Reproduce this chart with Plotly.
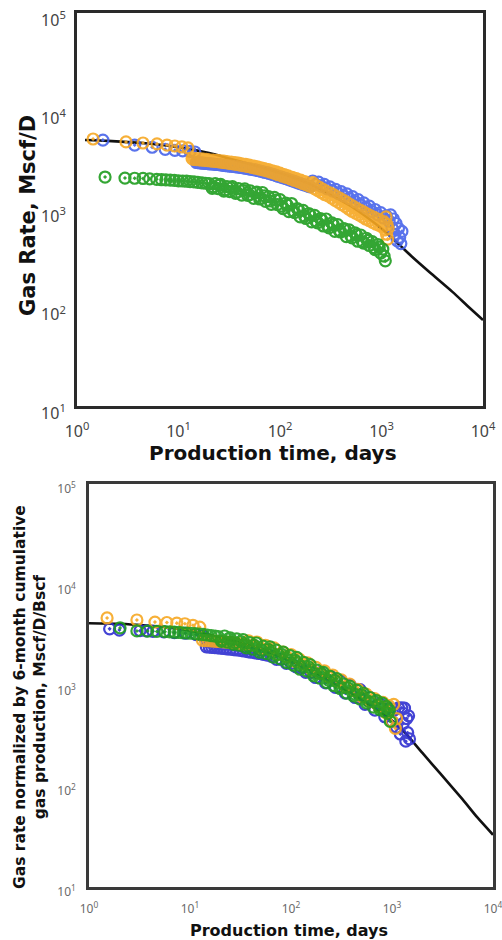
import plotly.graph_objects as go

# ---------------- Top panel: Gas rate ----------------
top_fit_t = [1.2, 2, 5, 10, 15, 20, 30, 50, 100, 200, 500, 1000, 1500, 2000, 3000, 5000, 7000, 10000]
top_fit_q = [5100, 5000, 4700, 4300, 4000, 3750, 3350, 2900, 2350, 1800, 1080, 640, 437, 330, 228, 145, 105, 75]

top_blue_t = [1.8, 3.7, 5.5, 7.4, 9.2, 11, 13, 14.5,
              15, 15.5, 16, 16.5, 17, 17.6, 18.2, 18.8, 19.5, 20.2, 21, 22, 23, 24, 25, 26, 27, 28, 29, 30.5,
              32, 33.5, 35, 36.5, 38, 39.5, 41, 42.5, 44, 46, 48, 50, 52, 54.5, 57, 59.5, 62, 65, 68, 71,
              74, 77.5, 81, 84.5, 88, 92, 96, 100.5, 105, 110, 115, 120.5, 126, 132, 138, 145, 152, 159.5, 167, 175,
              183, 190.5, 198,
              210, 225, 240, 256, 273, 291, 310, 331, 353, 376, 401, 428, 456, 486, 518, 552, 589, 628, 669, 713,
              760, 810, 864, 921, 982, 1047, 1116, 1190, 1230, 1270, 1310, 1350, 1390, 1430, 1470, 1510, 1550, 1590]
top_blue_q = [5090, 4530, 4300, 4100, 4000, 3950, 3900, 3850,
              3010, 3000, 2990, 2980, 2970, 2960, 2950, 2940, 2930, 2920, 2910, 2895, 2880, 2870, 2860, 2845, 2830, 2815, 2800, 2785,
              2770, 2755, 2740, 2725, 2710, 2695, 2680, 2665, 2650, 2630, 2610, 2590, 2570, 2550, 2530, 2505, 2480, 2450, 2420, 2395,
              2370, 2340, 2310, 2280, 2250, 2215, 2180, 2150, 2120, 2090, 2060, 2025, 1990, 1960, 1930, 1895, 1860, 1830, 1800, 1775,
              1750, 1725, 1700,
              1950, 1800, 1900, 1720, 1800, 1620, 1700, 1540, 1600, 1450, 1520, 1370, 1440, 1290, 1350, 1200, 1260, 1110, 1170, 1030,
              1080, 950, 1000, 880, 930, 820, 860, 760, 880, 650, 800, 560, 720, 480, 640, 520, 450, 600]

top_orange_t = [1.44, 3.04, 4.47, 6.14, 7.7, 9.2, 10.8, 12.4,
                13.6, 14.0, 14.5, 15.0, 15.5, 16.0, 16.5, 17.0, 17.6, 18.2, 18.8, 19.4, 20, 21, 22, 23, 24, 25, 26, 27,
                28, 29, 30, 31.5, 33, 34.5, 36, 37.5, 39, 40.5, 42, 44, 46, 48, 50, 52.5, 55, 57.5, 60, 62.5,
                65, 67.5, 70, 73.5, 77, 80.5, 84, 88, 92, 96, 100, 105, 110, 115, 120, 126, 132, 138, 145, 152,
                160, 167, 175, 182, 190, 197, 205,
                210, 220, 228, 236, 245, 255, 265, 275, 286, 298, 310, 322, 335, 348, 362, 376, 391, 406, 422, 439,
                456, 474, 493, 512, 532, 553, 575, 598, 621, 646, 671, 698, 725, 754, 783, 814, 846, 879, 914, 950,
                987, 1026, 1066, 1090, 1108, 1120, 1135, 1150, 1160]
top_orange_q = [5220, 4870, 4750, 4650, 4530, 4430, 4330, 4230,
                3300, 3240, 3300, 3220, 3280, 3200, 3270, 3180, 3250, 3160, 3230, 3140, 3210, 3110, 3190, 3080, 3160, 3050, 3130, 3020,
                3100, 2990, 3070, 2950, 3040, 2910, 3000, 2870, 2960, 2830, 2920, 2790, 2880, 2740, 2830, 2690, 2770, 2630, 2710, 2580,
                2660, 2530, 2610, 2470, 2550, 2400, 2480, 2330, 2410, 2260, 2340, 2190, 2270, 2120, 2200, 2050, 2130, 1980, 2060, 1910,
                1990, 1840, 1920, 1780, 1860, 1720, 1800,
                1880, 1620, 1750, 1560, 1680, 1490, 1600, 1420, 1530, 1380, 1480, 1310, 1420, 1240, 1350, 1180, 1300, 1120, 1240, 1070,
                1180, 1010, 1120, 960, 1070, 920, 1020, 880, 980, 840, 940, 800, 900, 770, 860, 740, 830, 710, 800, 690,
                770, 660, 740, 620, 840, 560, 700, 500, 640]

top_green_t = [1.89, 2.97, 3.7, 4.47, 5.2, 6.1, 6.8, 7.5, 8.3, 9.1, 10, 11, 12, 13, 14.2, 15.5, 17, 18.5,
               20, 21.5, 23, 24.5, 26, 28, 30, 32, 34, 36.5, 39, 42, 45, 48, 51, 55, 59, 63, 67, 72, 77, 82, 88, 94,
               100, 107, 114, 122, 130, 139, 148, 158, 169, 180, 192, 205, 219, 234, 250, 267, 285, 304, 325, 347,
               370, 395, 422, 450, 480, 512, 547, 584, 623, 665, 710, 758, 809, 863, 921, 983, 1030, 1060, 1090]
top_green_q = [2140, 2090, 2080, 2070, 2050, 2030, 2010, 2000, 1990, 1980, 1960, 1950, 1940, 1920, 1910, 1890, 1870, 1850,
               1830, 1640, 1830, 1630, 1800, 1540, 1710, 1520, 1710, 1460, 1630, 1400, 1620, 1390, 1550, 1300, 1500, 1280, 1490, 1210, 1350, 1130, 1330, 1120,
               1260, 1020, 1160, 950, 1150, 930, 1020, 840, 980, 810, 910, 750, 870, 730, 810, 680, 800, 650, 730, 600,
               700, 590, 640, 530, 620, 515, 580, 475, 550, 455, 510, 430, 470, 390, 440, 360, 395, 335, 300]
top_green_t2 = [22, 25, 29, 33, 37.5, 43.5, 50, 57, 65, 70, 80, 91, 104, 118, 134, 153, 175, 198, 226, 258,
                295, 336, 383, 437, 498, 568, 648, 740, 844, 950]
top_green_q2 = [1700, 1770, 1580, 1660, 1500, 1560, 1410, 1480, 1300, 1380, 1220, 1250, 1080, 1110, 970, 990, 850, 880, 760, 790,
                680, 700, 610, 630, 540, 555, 470, 485, 410, 415]

# ---------------- Bottom panel: normalized gas rate ----------------
bot_fit_t = [1, 2, 3, 5, 10, 20, 50, 100, 200, 500, 1000, 1345, 2000, 3000, 5000, 7000, 10000]
bot_fit_q = [4150, 4100, 4000, 3850, 3500, 3000, 2300, 1750, 1250, 720, 450, 340, 214, 134, 74, 49, 33]

bot_blue_t = [1.6, 2.0, 3.2, 3.7, 4.3, 5.5, 7, 9, 11.5, 13.5,
              14.5, 15.5, 16.5, 17.6, 18.8, 20, 21.5, 23, 25, 27, 29, 31.5, 34, 37, 40, 44, 48, 53, 58,
              64, 72, 80, 90, 100, 112, 125, 140, 157, 175, 196, 220, 246, 275, 308, 345, 386, 432, 483, 541,
              605, 677, 758, 848, 949, 1000, 1060, 1110, 1160, 1210, 1250, 1290, 1330, 1370, 1400, 1430, 1460, 1490]
bot_blue_q = [3650, 3550, 3500, 3480, 3450, 3400, 3350, 3300, 3200, 3100,
              2420, 2400, 2390, 2380, 2360, 2350, 2330, 2310, 2290, 2270, 2250, 2230, 2200, 2170, 2140, 2110, 2080, 2040, 2000,
              1950, 1820, 1820, 1660, 1660, 1530, 1500, 1350, 1360, 1200, 1340, 1060, 1230, 960, 1120, 840, 1010, 760, 910, 650,
              760, 570, 660, 490, 590, 440, 575, 385, 600, 330, 600, 420, 595, 280, 470, 340, 500, 295]

bot_orange_t = [1.51, 2.98, 4.5, 5.9, 7.4, 8.9, 10.7, 12.5,
                13.3, 14.2, 15.2, 16.2, 17.3, 18.5, 19.8, 21.2, 22.7, 24.3, 26, 28, 30, 32.5, 35,
                38, 42, 46, 51, 56, 62, 68, 75, 83, 91, 100, 110, 121, 133, 146, 161, 177, 195, 214, 236, 259,
                285, 314, 345, 380, 418, 460, 506, 556, 612, 673, 740, 814, 870, 930, 990, 1040, 1080, 1110]
bot_orange_q = [4680, 4470, 4260, 4220, 4160, 4100, 3960, 3790,
                2800, 2790, 2780, 2770, 2760, 2740, 2730, 2710, 2700, 2680, 2660, 2640, 2610, 2580, 2550,
                2780, 2520, 2700, 2340, 2510, 2260, 2360, 2030, 2150, 1920, 2030, 1730, 1830, 1620, 1680, 1420, 1510, 1320, 1400, 1210, 1270,
                1100, 1140, 970, 1035, 885, 915, 770, 820, 690, 740, 615, 680, 535, 630, 440, 650, 375, 470]

bot_green_t = [2.03, 2.98, 3.8, 4.7, 5.65, 6.3, 7.0, 7.7, 8.5, 9.3, 10.2, 11.2, 12.3, 13.5, 14.8, 16.2, 17.7,
               19, 20.5, 22, 23.5, 25, 27, 29, 31, 33.5, 36, 39, 42, 45.5, 49, 53, 57, 62, 67, 72, 78, 84, 91, 98,
               106, 114, 123, 133, 144, 155, 167, 180, 194, 209, 226, 244, 263, 284, 306, 330, 356, 384, 414, 447,
               482, 520, 561, 605, 653, 704, 760, 800, 840, 880, 910, 940, 960]
bot_green_q = [3730, 3480, 3470, 3440, 3420, 3400, 3380, 3360, 3340, 3320, 3300, 3270, 3240, 3210, 3170, 3130, 3090,
               3060, 2740, 3100, 2700, 2970, 2560, 2900, 2510, 2860, 2360, 2660, 2290, 2640, 2140, 2460, 2080, 2420, 1910, 2240, 1840, 2140, 1690, 1980,
               1590, 1900, 1450, 1700, 1390, 1610, 1250, 1420, 1180, 1350, 1070, 1230, 1000, 1170, 930, 1040, 840, 980, 790, 900,
               735, 840, 670, 760, 610, 710, 575, 670, 555, 620, 530, 570, 440]
bot_green_t2 = [21, 24, 28, 32, 37.5, 43.5, 51, 59.5, 69.5, 81, 94, 110, 128, 149, 173, 201, 234, 272, 317, 369,
                430, 500, 582, 678, 780, 900]
bot_green_q2 = [2820, 2900, 2660, 2730, 2470, 2500, 2250, 2280, 2030, 2040, 1790, 1780, 1550, 1530, 1310, 1300, 1130, 1120, 955, 945,
                815, 805, 695, 690, 600, 590]

tick_x_vals = [1, 10, 100, 1000, 10000]
tick_x_text = ["10<sup>0</sup>", "10<sup>1</sup>", "10<sup>2</sup>", "10<sup>3</sup>", "10<sup>4</sup>"]
tick_y_vals = [10, 100, 1000, 10000, 100000]
tick_y_text = ["10<sup>1</sup>", "10<sup>2</sup>", "10<sup>3</sup>", "10<sup>4</sup>", "10<sup>5</sup>"]

BLUE_TOP = "#4864ea"
BLUE_BOT = "#2f2fd0"
ORANGE = "#f7a823"
GREEN = "#1f9d1f"

fig = go.Figure()


def add_line(t, q, xa, ya):
    fig.add_trace(go.Scatter(x=t, y=q, mode="lines", xaxis=xa, yaxis=ya,
                             line=dict(color="#111111", width=2.6, shape="spline", smoothing=0.6),
                             showlegend=False, hoverinfo="skip"))


def add_pts(t, q, color, xa, ya):
    fig.add_trace(go.Scatter(x=t, y=q, mode="markers", xaxis=xa, yaxis=ya,
                             marker=dict(symbol="circle-open-dot", size=11, color=color,
                                         line=dict(color=color, width=2.2)),
                             opacity=0.9, showlegend=False))


add_line(top_fit_t, top_fit_q, "x", "y")
add_pts(top_blue_t, top_blue_q, BLUE_TOP, "x", "y")
add_pts(top_orange_t, top_orange_q, ORANGE, "x", "y")
add_pts(top_green_t + top_green_t2, top_green_q + top_green_q2, GREEN, "x", "y")

add_line(bot_fit_t, bot_fit_q, "x2", "y2")
add_pts(bot_blue_t, bot_blue_q, BLUE_BOT, "x2", "y2")
add_pts(bot_orange_t, bot_orange_q, ORANGE, "x2", "y2")
add_pts(bot_green_t + bot_green_t2, bot_green_q + bot_green_q2, GREEN, "x2", "y2")

W, H = 502, 940


def ax(domain, rng, vals, text, size, color, lw, lc, standoff, shift):
    return dict(domain=domain, type="log", range=rng, showgrid=False, zeroline=False, automargin=False,
                showline=True, mirror=True, linecolor=lc, linewidth=lw, ticks="",
                tickmode="array", tickvals=vals, ticktext=text,
                tickfont=dict(family="Noto Sans", size=size, color=color),
                ticklabelstandoff=standoff, ticklabelshift=shift, ticklabeloverflow="allow")


fig.update_layout(
    width=W, height=H, margin=dict(l=0, r=0, t=0, b=0, autoexpand=False),
    paper_bgcolor="white", plot_bgcolor="white", showlegend=False,
    xaxis=dict(ax([77 / W, 483 / W], [0, 4], tick_x_vals, tick_x_text, 16, "#444444", 3, "#2a2a2a", 9, 0), anchor="y"),
    yaxis=dict(ax([1 - 406 / H, 1 - 13 / H], [1, 5], tick_y_vals, tick_y_text, 16, "#444444", 3, "#2a2a2a", 5, 7), anchor="x"),
    xaxis2=dict(ax([89 / W, 493 / W], [0, 4], tick_x_vals, tick_x_text, 12, "#6a6a6a", 2.5, "#3a3a3a", 9, 0), anchor="y2"),
    yaxis2=dict(ax([1 - 887 / H, 1 - 484 / H], [1, 5], tick_y_vals, tick_y_text, 12, "#6a6a6a", 2.5, "#3a3a3a", 8, 5), anchor="x2"),
)

title_font = "DejaVu Sans"
fig.add_annotation(text="<b>Gas Rate, Mscf/D</b>", xref="paper", yref="paper",
                   x=28 / W, y=1 - 216 / H, xanchor="center", yanchor="middle", textangle=-90,
                   showarrow=False, font=dict(family=title_font, size=21, color="#111111"))
fig.add_annotation(text="<b>Production time, days</b>", xref="paper", yref="paper",
                   x=273 / W, y=1 - 453 / H, xanchor="center", yanchor="middle",
                   showarrow=False, font=dict(family=title_font, size=20, color="#111111"))
fig.add_annotation(text="<b>Gas rate normalized by 6-month cumulative<br>gas production, Mscf/D/Bscf</b>",
                   xref="paper", yref="paper", x=30 / W, y=1 - 697 / H, xanchor="center", yanchor="middle",
                   textangle=-90, showarrow=False,
                   font=dict(family=title_font, size=15.5, color="#111111"))
fig.add_annotation(text="<b>Production time, days</b>", xref="paper", yref="paper",
                   x=289 / W, y=1 - 930 / H, xanchor="center", yanchor="middle",
                   showarrow=False, font=dict(family=title_font, size=16, color="#111111"))

fig.write_html("out.html")
